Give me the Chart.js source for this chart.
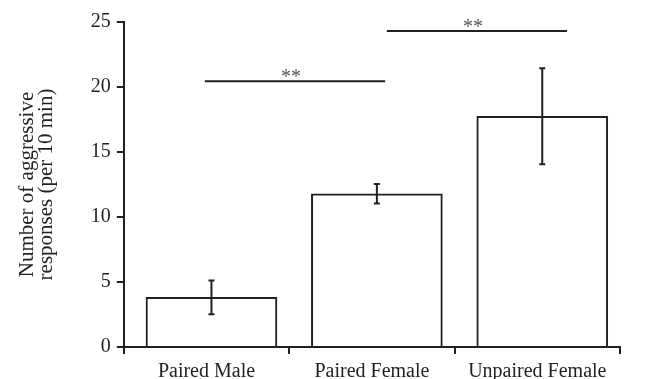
<!DOCTYPE html>
<html>
<head>
<meta charset="utf-8">
<script src="https://cdn.jsdelivr.net/npm/chart.js@4"></script>
<style>
  html, body { margin: 0; padding: 0; background: #fff; }
  #wrap { width: 652px; height: 379px; }
</style>
</head>
<body>
<div id="wrap"><canvas id="myChart"></canvas></div>
<script>
const categories = ["Paired Male", "Paired Female", "Unpaired Female"];
const means = [3.82, 11.79, 17.75];
const errors = [1.3, 0.75, 3.7];
const yTicks = [0, 5, 10, 15, 20, 25];
// significance brackets (x in category units, y in data units)
const bracketFrom = [-0.04, 1.06];
const bracketTo = [1.05, 2.15];
const bracketY = [20.45, 24.3];
const bracketLabels = ["**", "**"];

const ink = "#231f20";
const serif = "'Liberation Serif', 'DejaVu Serif', serif";

const errorBars = {
  id: "errorBars",
  afterDatasetsDraw(chart) {
    const ctx = chart.ctx;
    const xs = chart.scales.xb;
    const ys = chart.scales.y;
    ctx.save();
    ctx.strokeStyle = ink;
    ctx.lineWidth = 2;
    means.forEach((m, i) => {
      const x = xs.getPixelForValue(i);
      const top = ys.getPixelForValue(m + errors[i]);
      const bot = ys.getPixelForValue(m - errors[i]);
      ctx.beginPath();
      ctx.moveTo(x, top); ctx.lineTo(x, bot);
      ctx.moveTo(x - 3, top); ctx.lineTo(x + 3, top);
      ctx.moveTo(x - 3, bot); ctx.lineTo(x + 3, bot);
      ctx.stroke();
    });
    ctx.fillStyle = "#555";
    ctx.font = "20px " + serif;
    ctx.textAlign = "center";
    ctx.textBaseline = "alphabetic";
    bracketY.forEach((v, i) => {
      const x1 = xs.getPixelForValue(bracketFrom[i]);
      const x2 = xs.getPixelForValue(bracketTo[i]);
      const y = ys.getPixelForValue(v);
      ctx.beginPath();
      ctx.moveTo(x1, y); ctx.lineTo(x2, y);
      ctx.stroke();
      ctx.fillText(bracketLabels[i], (x1 + x2) / 2 - 4, y + 2);
    });
    ctx.restore();
  }
};

new Chart(document.getElementById("myChart"), {
  type: "bar",
  data: {
    labels: categories,
    datasets: [
      {
        data: means.map((m, i) => ({ x: i, y: m })),
        xAxisID: "xb",
        backgroundColor: "#fff",
        borderColor: ink,
        borderWidth: 2,
        barThickness: 131,
      },
    ],
  },
  options: {
    responsive: true,
    maintainAspectRatio: false,
    animation: false,
    layout: { padding: { left: 18, top: 22, right: 32, bottom: -11 } },
    plugins: { legend: { display: false }, tooltip: { enabled: false } },
    scales: {
      x: {
        type: "category",
        grid: { offset: true, drawOnChartArea: false, drawTicks: true, tickLength: 7, color: ink, lineWidth: 2 },
        border: { color: ink, width: 2 },
        ticks: { color: ink, font: { family: serif, size: 20 }, padding: 6 },
      },
      xb: {
        type: "linear",
        display: false,
        offset: false,
        min: -0.53,
        max: 2.47,
      },
      y: {
        min: 0,
        max: 25,
        afterBuildTicks: (axis) => { axis.ticks = yTicks.map((v) => ({ value: v })); },
        grid: { drawOnChartArea: false, drawTicks: true, tickLength: 7, color: ink, lineWidth: 2 },
        border: { color: ink, width: 2 },
        ticks: { color: ink, font: { family: serif, size: 20 }, padding: 6 },
        title: {
          display: true,
          text: ["Number of aggressive", "responses (per 10 min)"],
          color: ink,
          font: { family: serif, size: 21, lineHeight: 0.9 },
          padding: { top: 0, bottom: 29 },
        },
      },
    },
  },
  plugins: [errorBars],
});
</script>
</body>
</html>
